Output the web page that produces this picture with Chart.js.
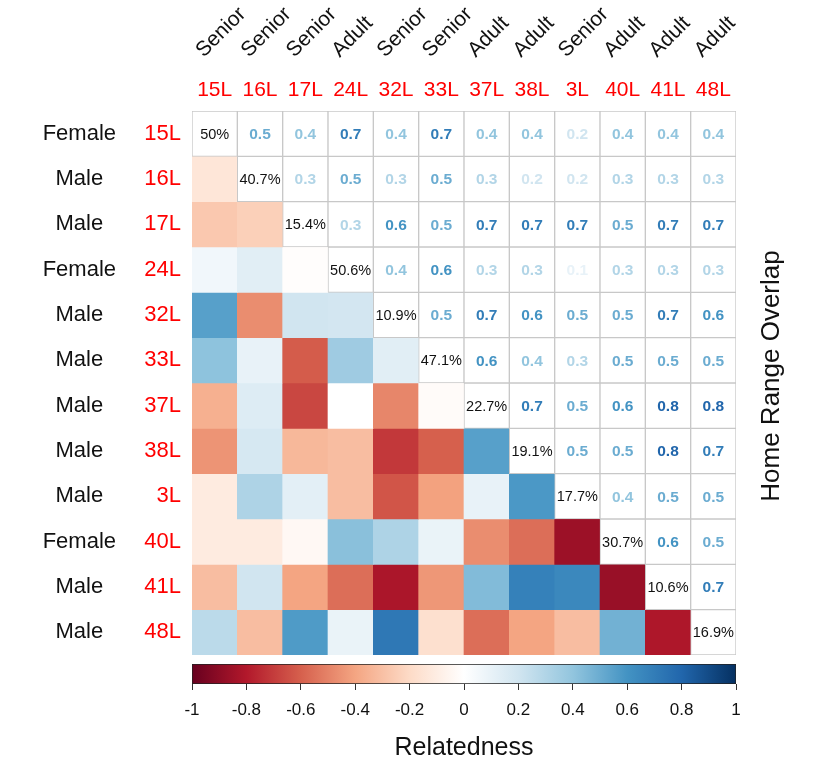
<!DOCTYPE html>
<html>
<head>
<meta charset="utf-8">
<script src="https://cdn.jsdelivr.net/npm/chart.js@4.4.1/dist/chart.umd.min.js"></script>
<style>
  html, body { margin: 0; padding: 0; background: #fff; }
  #wrap { position: relative; width: 816px; height: 761px; }
  #matrixChart { position: absolute; left: 0; top: 0; }
  #barChart { position: absolute; left: 0; top: 660px; }
</style>
</head>
<body>
<div id="wrap">
  <canvas id="matrixChart" width="816" height="761"></canvas>
  <canvas id="barChart" width="816" height="101"></canvas>
</div>
<script>
// Individuals (rows and columns share the same order)
const ids = ['15L', '16L', '17L', '24L', '32L', '33L', '37L', '38L', '3L', '40L', '41L', '48L'];
const sexes = ['Female', 'Male', 'Male', 'Female', 'Male', 'Male', 'Male', 'Male', 'Male', 'Female', 'Male', 'Male'];
const ages = ['Senior', 'Senior', 'Senior', 'Adult', 'Senior', 'Senior', 'Adult', 'Adult', 'Senior', 'Adult', 'Adult', 'Adult'];

// Diagonal: own home range value (%)
const selfOverlap = [50, 40.7, 15.4, 50.6, 10.9, 47.1, 22.7, 19.1, 17.7, 30.7, 10.6, 16.9];

// Upper triangle: home range overlap, row r holds columns r+1 .. 11
const overlap = [
  [0.5, 0.4, 0.7, 0.4, 0.7, 0.4, 0.4, 0.2, 0.4, 0.4, 0.4],
  [0.3, 0.5, 0.3, 0.5, 0.3, 0.2, 0.2, 0.3, 0.3, 0.3],
  [0.3, 0.6, 0.5, 0.7, 0.7, 0.7, 0.5, 0.7, 0.7],
  [0.4, 0.6, 0.3, 0.3, 0.1, 0.3, 0.3, 0.3],
  [0.5, 0.7, 0.6, 0.5, 0.5, 0.7, 0.6],
  [0.6, 0.4, 0.3, 0.5, 0.5, 0.5],
  [0.7, 0.5, 0.6, 0.8, 0.8],
  [0.5, 0.5, 0.8, 0.7],
  [0.4, 0.5, 0.5],
  [0.6, 0.5],
  [0.7],
  []
];

// Lower triangle: relatedness, row r holds columns 0 .. r-1
const relatedness = [
  [],
  [-0.14],
  [-0.27, -0.24],
  [0.06, 0.13, -0.01],
  [0.55, -0.47, 0.2, 0.19],
  [0.41, 0.1, -0.61, 0.36, 0.13],
  [-0.36, 0.15, -0.67, 0.0, -0.49, -0.02],
  [-0.45, 0.18, -0.33, -0.31, -0.71, -0.6, 0.55],
  [-0.11, 0.31, 0.12, -0.31, -0.63, -0.41, 0.1, 0.58],
  [-0.11, -0.11, -0.04, 0.42, 0.31, 0.09, -0.47, -0.56, -0.86],
  [-0.31, 0.2, -0.4, -0.56, -0.82, -0.44, 0.44, 0.68, 0.65, -0.87],
  [0.27, -0.31, 0.57, 0.09, 0.72, -0.17, -0.56, -0.4, -0.31, 0.48, -0.81]
];

const colorbarTicks = [-1, -0.8, -0.6, -0.4, -0.2, 0, 0.2, 0.4, 0.6, 0.8, 1];

const FONT = '"Liberation Sans", Arial, sans-serif';
const rdbu = ['#67001F', '#B2182B', '#D6604D', '#F4A582', '#FDDBC7', '#FFFFFF',
              '#D1E5F0', '#92C5DE', '#4393C3', '#2166AC', '#053061'];

function hexToRgb(h) {
  return [parseInt(h.slice(1, 3), 16), parseInt(h.slice(3, 5), 16), parseInt(h.slice(5, 7), 16)];
}

function colorFor(v) {
  const t = (Math.max(-1, Math.min(1, v)) + 1) / 2 * (rdbu.length - 1);
  const i = Math.min(rdbu.length - 2, Math.floor(t));
  const f = t - i;
  const a = hexToRgb(rdbu[i]), b = hexToRgb(rdbu[i + 1]);
  const c = a.map((x, k) => Math.round(x + (b[k] - x) * f));
  return 'rgb(' + c.join(',') + ')';
}

// One floating-bar dataset per row, each bar covers one cell
const datasets = ids.map((id, r) => ({
  label: id,
  data: ids.map(() => [r - 0.5, r + 0.5]),
  backgroundColor: ids.map((_, c) => c < r ? colorFor(relatedness[r][c]) : '#ffffff'),
  borderColor: '#c8c8c8',
  borderWidth: ids.map((_, c) => c < r ? 0 : 1),
  borderSkipped: false,
  grouped: false,
  barPercentage: 1,
  categoryPercentage: 1
}));

// Text inside the cells, rotated age labels and right side title
const cellText = {
  id: 'cellText',
  afterDatasetsDraw(chart) {
    const { ctx, scales: { x, y } } = chart;
    ctx.save();
    ctx.textAlign = 'center';
    ctx.textBaseline = 'middle';
    ids.forEach((_, r) => {
      ids.forEach((_, c) => {
        const px = x.getPixelForValue(c);
        const py = y.getPixelForValue(r);
        if (c === r) {
          ctx.font = '14.5px ' + FONT;
          ctx.fillStyle = '#111';
          ctx.fillText(selfOverlap[r] + '%', px, py + 1);
        } else if (c > r) {
          const v = overlap[r][c - r - 1];
          ctx.font = 'bold 15.5px ' + FONT;
          ctx.fillStyle = colorFor(v);
          ctx.fillText(v.toFixed(1), px, py + 1);
        }
      });
    });

    ctx.font = '21px ' + FONT;
    ctx.fillStyle = '#111';
    ctx.textAlign = 'left';
    ctx.textBaseline = 'alphabetic';
    ages.forEach((a, c) => {
      ctx.save();
      ctx.translate(x.getPixelForValue(c) - 11, 58);
      ctx.rotate(-Math.PI / 4);
      ctx.fillText(a, 0, 0);
      ctx.restore();
    });

    ctx.font = '26px ' + FONT;
    ctx.textAlign = 'center';
    ctx.textBaseline = 'middle';
    ctx.translate(772, 376);
    ctx.rotate(-Math.PI / 2);
    ctx.fillText('Home Range Overlap', 0, 0);
    ctx.restore();
  }
};

const rowTicks = (axis) => { axis.ticks = ids.map((_, i) => ({ value: i })); };

new Chart(document.getElementById('matrixChart'), {
  type: 'bar',
  data: { labels: ids, datasets: datasets },
  options: {
    responsive: false,
    maintainAspectRatio: false,
    animation: false,
    layout: { padding: { left: 0, right: 80, top: 0, bottom: 106 } },
    plugins: { legend: { display: false }, tooltip: { enabled: false } },
    scales: {
      x: {
        type: 'category',
        position: 'top',
        offset: true,
        grid: { display: false, drawTicks: false },
        border: { display: false },
        ticks: { color: '#ff0000', font: { size: 21, family: FONT }, padding: 8, maxRotation: 0, autoSkip: false },
        afterFit: (s) => { s.height = 111; }
      },
      y: {
        type: 'linear',
        position: 'left',
        weight: 0,
        min: -0.5,
        max: 11.5,
        reverse: true,
        afterBuildTicks: rowTicks,
        grid: { display: false, drawTicks: false },
        border: { display: false },
        ticks: { color: '#ff0000', font: { size: 22, family: FONT }, padding: 11, callback: (v) => ids[v] },
        afterFit: (s) => { s.width = 60; }
      },
      ySex: {
        type: 'linear',
        position: 'left',
        weight: 1,
        min: -0.5,
        max: 11.5,
        reverse: true,
        afterBuildTicks: rowTicks,
        grid: { display: false, drawTicks: false },
        border: { display: false },
        ticks: { color: '#111', font: { size: 22, family: FONT }, padding: 16, crossAlign: 'center', callback: (v) => sexes[v] },
        afterFit: (s) => { s.width = 132; }
      }
    }
  },
  plugins: [cellText]
});

// Colour key for relatedness
new Chart(document.getElementById('barChart'), {
  type: 'bar',
  data: {
    labels: ['Relatedness'],
    datasets: [{
      data: [[-1, 1]],
      backgroundColor: (ctx) => {
        const chart = ctx.chart;
        if (!chart.chartArea) return '#ffffff';
        const xs = chart.scales.x;
        const g = chart.ctx.createLinearGradient(xs.getPixelForValue(-1), 0, xs.getPixelForValue(1), 0);
        rdbu.forEach((c, i) => g.addColorStop(i / (rdbu.length - 1), c));
        return g;
      },
      borderColor: '#222',
      borderWidth: 1,
      borderSkipped: false,
      barPercentage: 1,
      categoryPercentage: 1
    }]
  },
  options: {
    indexAxis: 'y',
    responsive: false,
    maintainAspectRatio: false,
    animation: false,
    layout: { padding: { left: 192, right: 80, top: 4, bottom: 0 } },
    plugins: { legend: { display: false }, tooltip: { enabled: false } },
    scales: {
      y: { display: false },
      x: {
        type: 'linear',
        position: 'bottom',
        min: -1,
        max: 1,
        afterBuildTicks: (s) => { s.ticks = colorbarTicks.map((v) => ({ value: v })); },
        ticks: { color: '#111', font: { size: 17, family: FONT }, padding: 10, callback: (v) => String(Math.round(v * 10) / 10) },
        grid: { drawOnChartArea: false, drawTicks: true, tickLength: 6, color: '#333' },
        border: { display: false },
        title: { display: true, text: 'Relatedness', color: '#111', font: { size: 25, family: FONT, lineHeight: 1.0 }, padding: 0 },
        afterFit: (s) => { s.height = 77; }
      }
    }
  }
});
</script>
</body>
</html>
